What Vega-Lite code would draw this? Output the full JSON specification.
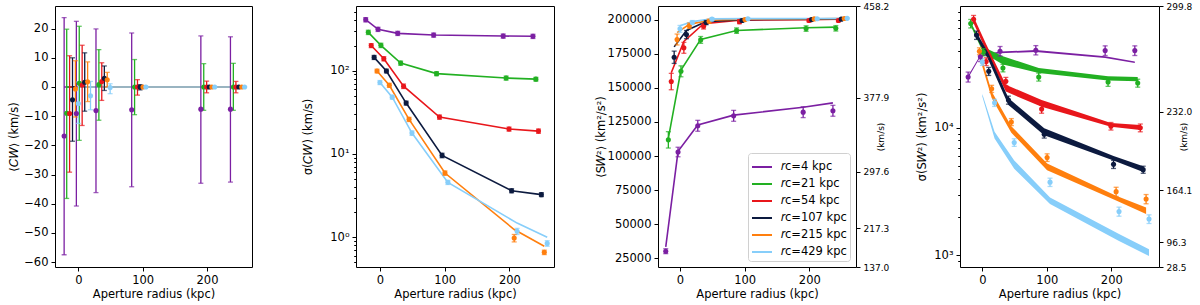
{
"$schema": "https://vega.github.io/schema/vega-lite/v6.json",
"padding": {"left": 8, "top": 1, "right": 2, "bottom": 2},
"config": {
  "font": "DejaVu Sans",
  "view": {"stroke": "#000000", "strokeWidth": 1},
  "axis": {"labelFontSize": 11.5, "titleFontSize": 11.5, "labelColor": "#000", "titleColor": "#000", "titleFontWeight": "normal", "tickColor": "#000", "tickSize": 4, "tickWidth": 1, "grid": false, "domain": false, "labelPadding": 3, "labelFlush": false, "labelOverlap": false}
},
"datasets": {"d": [
{"s":"𝑟c=4 kpc","x":-22,"c":-16.8,"clo":-57.5,"chi":23.8,"cm":0,"d":409,"dlo":385,"dhi":433,"dm":409,"S":30350,"Slo":28550,"Shi":32150,"Sm":33500,"v":25000,"vlo":22800,"vhi":27300,"vmlo":24500,"vmhi":25500},
{"s":"𝑟c=4 kpc","x":-3,"c":-9.1,"clo":-40.8,"chi":22.5,"cm":0,"d":313,"dlo":295,"dhi":331,"dm":313,"S":103000,"Slo":99500,"Shi":106500,"Sm":103500,"v":36000,"vlo":33000,"vhi":39000,"vmlo":36000,"vmhi":37200},
{"s":"𝑟c=4 kpc","x":27.5,"c":-8.1,"clo":-36.2,"chi":19.9,"cm":0,"d":280,"dlo":264,"dhi":296,"dm":280,"S":122200,"Slo":118200,"Shi":126200,"Sm":122800,"v":39800,"vlo":36500,"vhi":43300,"vmlo":38300,"vmhi":39500},
{"s":"𝑟c=4 kpc","x":83,"c":-7.8,"clo":-34.2,"chi":18.5,"cm":0,"d":267,"dlo":252,"dhi":282,"dm":267,"S":129500,"Slo":125500,"Shi":133500,"Sm":130000,"v":40500,"vlo":37200,"vhi":44000,"vmlo":39300,"vmhi":40600},
{"s":"𝑟c=4 kpc","x":190.5,"c":-7.6,"clo":-33.0,"chi":17.5,"cm":0,"d":260,"dlo":245,"dhi":275,"dm":260,"S":132200,"Slo":128200,"Shi":136200,"Sm":135800,"v":40300,"vlo":36800,"vhi":43800,"vmlo":35200,"vmhi":36300},
{"s":"𝑟c=4 kpc","x":236.5,"c":-7.6,"clo":-32.6,"chi":17.2,"cm":0,"d":258,"dlo":243,"dhi":273,"dm":258,"S":133200,"Slo":129200,"Shi":137200,"Sm":139000,"v":40300,"vlo":36800,"vhi":43800,"vmlo":32100,"vmhi":33100},
{"s":"𝑟c=21 kpc","x":-18,"c":-9.0,"clo":-38.2,"chi":19.8,"cm":0,"d":288,"dlo":271,"dhi":305,"dm":288,"S":111900,"Slo":105900,"Shi":117900,"Sm":113000,"v":65500,"vlo":60500,"vhi":70500,"vmlo":63000,"vmhi":67500},
{"s":"𝑟c=21 kpc","x":1.5,"c":1.3,"clo":-18.3,"chi":20.8,"cm":0,"d":201,"dlo":189,"dhi":213,"dm":201,"S":162100,"Slo":158100,"Shi":166100,"Sm":163000,"v":39100,"vlo":36600,"vhi":41600,"vmlo":38500,"vmhi":43000},
{"s":"𝑟c=21 kpc","x":32,"c":0.8,"clo":-11.4,"chi":12.8,"cm":0,"d":123,"dlo":116,"dhi":130,"dm":123,"S":185100,"Slo":182600,"Shi":187600,"Sm":185500,"v":29400,"vlo":27400,"vhi":31400,"vmlo":31300,"vmhi":36300},
{"s":"𝑟c=21 kpc","x":87.5,"c":0,"clo":-9.5,"chi":9.4,"cm":0,"d":92,"dlo":87,"dhi":97,"dm":92,"S":191900,"Slo":189900,"Shi":193900,"Sm":192000,"v":25000,"vlo":23200,"vhi":26800,"vmlo":26900,"vmhi":29400},
{"s":"𝑟c=21 kpc","x":195,"c":0,"clo":-8.0,"chi":8.0,"cm":0,"d":81.5,"dlo":77,"dhi":86,"dm":81.5,"S":193400,"Slo":191400,"Shi":195400,"Sm":194000,"v":22800,"vlo":21100,"vhi":24500,"vmlo":23500,"vmhi":25300},
{"s":"𝑟c=21 kpc","x":241,"c":0,"clo":-8.0,"chi":8.1,"cm":0,"d":79,"dlo":75,"dhi":83,"dm":79,"S":193600,"Slo":191600,"Shi":195600,"Sm":194500,"v":22400,"vlo":20800,"vhi":24000,"vmlo":23100,"vmhi":25000},
{"s":"𝑟c=54 kpc","x":-13.5,"c":-9.1,"clo":-29.2,"chi":10.7,"cm":0,"d":200,"dlo":189,"dhi":211,"dm":200,"S":154600,"Slo":148600,"Shi":160600,"Sm":161000,"v":70800,"vlo":65800,"vhi":75800,"vmlo":66000,"vmhi":74000},
{"s":"𝑟c=54 kpc","x":6,"c":0.7,"clo":-13.2,"chi":14.3,"cm":0,"d":139,"dlo":131,"dhi":147,"dm":139,"S":179300,"Slo":175300,"Shi":183300,"Sm":184000,"v":33000,"vlo":30700,"vhi":35300,"vmlo":40000,"vmhi":45000},
{"s":"𝑟c=54 kpc","x":36.5,"c":1.9,"clo":-4.6,"chi":8.3,"cm":0,"d":65,"dlo":61,"dhi":69,"dm":65,"S":195100,"Slo":193100,"Shi":197100,"Sm":197000,"v":23100,"vlo":21400,"vhi":24800,"vmlo":19200,"vmhi":21700},
{"s":"𝑟c=54 kpc","x":92,"c":0,"clo":-2.8,"chi":2.5,"cm":0,"d":27.7,"dlo":26.1,"dhi":29.3,"dm":27.7,"S":198500,"Slo":197000,"Shi":200000,"Sm":199500,"v":14000,"vlo":13000,"vhi":15000,"vmlo":14600,"vmhi":16500},
{"s":"𝑟c=54 kpc","x":199.5,"c":0,"clo":-2.0,"chi":2.0,"cm":0,"d":19.9,"dlo":18.8,"dhi":21,"dm":19.9,"S":199300,"Slo":198300,"Shi":200300,"Sm":200000,"v":10300,"vlo":9600,"vhi":11000,"vmlo":10200,"vmhi":10900},
{"s":"𝑟c=54 kpc","x":245,"c":0,"clo":-2.0,"chi":1.9,"cm":0,"d":18.8,"dlo":17.7,"dhi":19.9,"dm":18.8,"S":199300,"Slo":198300,"Shi":200300,"Sm":200200,"v":10000,"vlo":9300,"vhi":10700,"vmlo":9600,"vmhi":10500},
{"s":"𝑟c=107 kpc","x":-9,"c":-4.4,"clo":-18.6,"chi":10.0,"cm":0,"d":144,"dlo":136,"dhi":152,"dm":144,"S":172400,"Slo":167900,"Shi":176900,"Sm":180000,"v":53200,"vlo":49200,"vhi":57200,"vmlo":51000,"vmhi":56000},
{"s":"𝑟c=107 kpc","x":10,"c":1.6,"clo":-8.3,"chi":11.7,"cm":0,"d":99,"dlo":94,"dhi":104,"dm":99,"S":189000,"Slo":186000,"Shi":192000,"Sm":192000,"v":27700,"vlo":25700,"vhi":29700,"vmlo":33500,"vmhi":38000},
{"s":"𝑟c=107 kpc","x":40.5,"c":3.0,"clo":-1.2,"chi":7.2,"cm":0,"d":40.8,"dlo":38.6,"dhi":43,"dm":40.8,"S":197800,"Slo":196300,"Shi":199300,"Sm":198500,"v":16500,"vlo":15300,"vhi":17700,"vmlo":15100,"vmhi":17100},
{"s":"𝑟c=107 kpc","x":96,"c":0,"clo":-1.0,"chi":0.8,"cm":0,"d":9.6,"dlo":9.0,"dhi":10.2,"dm":9.6,"S":199300,"Slo":198300,"Shi":200300,"Sm":200000,"v":8900,"vlo":8300,"vhi":9500,"vmlo":8750,"vmhi":9900},
{"s":"𝑟c=107 kpc","x":203.5,"c":0,"clo":-0.4,"chi":0.4,"cm":0,"d":3.62,"dlo":3.42,"dhi":3.83,"dm":3.62,"S":200000,"Slo":199200,"Shi":200800,"Sm":200300,"v":5170,"vlo":4800,"vhi":5550,"vmlo":5550,"vmhi":6000},
{"s":"𝑟c=107 kpc","x":249.5,"c":0,"clo":-0.3,"chi":0.3,"cm":0,"d":3.25,"dlo":3.08,"dhi":3.43,"dm":3.25,"S":200300,"Slo":199700,"Shi":200900,"Sm":200500,"v":4700,"vlo":4400,"vhi":5000,"vmlo":4500,"vmhi":5000},
{"s":"𝑟c=215 kpc","x":-4.5,"c":-0.7,"clo":-10.3,"chi":9.0,"cm":0,"d":99,"dlo":94,"dhi":104,"dm":99,"S":185400,"Slo":181400,"Shi":189400,"Sm":190500,"v":39800,"vlo":37300,"vhi":42300,"vmlo":36000,"vmhi":40500},
{"s":"𝑟c=215 kpc","x":14.5,"c":1.8,"clo":-5.0,"chi":8.6,"cm":0,"d":66.7,"dlo":63,"dhi":70.5,"dm":66.7,"S":195500,"Slo":193500,"Shi":197500,"Sm":196500,"v":20200,"vlo":18900,"vhi":21500,"vmlo":17100,"vmhi":19200},
{"s":"𝑟c=215 kpc","x":45,"c":2.5,"clo":0.0,"chi":5.0,"cm":0,"d":26,"dlo":24.5,"dhi":27.5,"dm":26,"S":198800,"Slo":197300,"Shi":200300,"Sm":199500,"v":11100,"vlo":10400,"vhi":11800,"vmlo":9150,"vmhi":10300},
{"s":"𝑟c=215 kpc","x":100.5,"c":0,"clo":-0.3,"chi":0.3,"cm":0,"d":5.9,"dlo":5.55,"dhi":6.25,"dm":5.9,"S":200000,"Slo":199200,"Shi":200800,"Sm":200300,"v":5840,"vlo":5450,"vhi":6250,"vmlo":4640,"vmhi":5240},
{"s":"𝑟c=215 kpc","x":207.5,"c":0,"clo":-0.1,"chi":0.1,"cm":0,"d":0.98,"dlo":0.88,"dhi":1.08,"dm":1.24,"S":200500,"Slo":199900,"Shi":201100,"Sm":200600,"v":3160,"vlo":2900,"vhi":3420,"vmlo":2690,"vmhi":2940},
{"s":"𝑟c=215 kpc","x":254,"c":0,"clo":-0.1,"chi":0.1,"cm":0,"d":0.66,"dlo":0.62,"dhi":0.70,"dm":0.78,"S":200800,"Slo":200300,"Shi":201300,"Sm":200800,"v":2770,"vlo":2540,"vhi":3000,"vmlo":2110,"vmhi":2380},
{"s":"𝑟c=429 kpc","x":0,"c":-5.7,"clo":-12.5,"chi":1.7,"cm":0,"d":72,"dlo":68,"dhi":76,"dm":72,"S":193200,"Slo":190700,"Shi":195700,"Sm":195500,"v":32800,"vlo":30800,"vhi":34800,"vmlo":17600,"vmhi":18400},
{"s":"𝑟c=429 kpc","x":19,"c":-3.0,"clo":-7.8,"chi":1.9,"cm":0,"d":48,"dlo":45.5,"dhi":50.5,"dm":48,"S":197800,"Slo":196300,"Shi":199300,"Sm":198500,"v":15700,"vlo":14700,"vhi":16700,"vmlo":8250,"vmhi":9300},
{"s":"𝑟c=429 kpc","x":49.5,"c":-0.2,"clo":-2.3,"chi":1.1,"cm":0,"d":17.8,"dlo":16.7,"dhi":18.9,"dm":17.8,"S":200300,"Slo":199300,"Shi":201300,"Sm":200500,"v":7670,"vlo":7150,"vhi":8200,"vmlo":4780,"vmhi":5550},
{"s":"𝑟c=429 kpc","x":105,"c":0,"clo":-0.2,"chi":0.2,"cm":0,"d":4.56,"dlo":4.3,"dhi":4.82,"dm":4.56,"S":200600,"Slo":200100,"Shi":201100,"Sm":200700,"v":3750,"vlo":3470,"vhi":4030,"vmlo":2530,"vmhi":2850},
{"s":"𝑟c=429 kpc","x":212,"c":0,"clo":-0.1,"chi":0.1,"cm":0,"d":1.18,"dlo":1.08,"dhi":1.28,"dm":1.48,"S":200600,"Slo":200100,"Shi":201100,"Sm":200800,"v":2210,"vlo":2030,"vhi":2390,"vmlo":1300,"vmhi":1470},
{"s":"𝑟c=429 kpc","x":258.5,"c":0,"clo":-0.1,"chi":0.1,"cm":0,"d":0.845,"dlo":0.78,"dhi":0.91,"dm":1.0,"S":200900,"Slo":200400,"Shi":201400,"Sm":200900,"v":1930,"vlo":1780,"vhi":2080,"vmlo":990,"vmhi":1120}
]},
"data": {"name": "d"},
"spacing": 104,
"bounds": "flush",
"resolve": {"scale": {"x": "independent", "y": "independent", "color": "independent"}, "axis": {"x": "independent", "y": "independent"}, "legend": {"color": "independent"}},
"hconcat": [
{
 "width": 197, "height": 261,
 "encoding": {
   "x": {"field": "x", "type": "quantitative", "scale": {"domain": [-36.2, 270], "nice": false, "zero": false}, "axis": {"values": [0, 100, 200], "title": "Aperture radius (kpc)", "titlePadding": 3, "labelOverlap": false}},
   "color": {"field": "s", "type": "nominal", "scale": {"domain": ["𝑟c=4 kpc","𝑟c=21 kpc","𝑟c=54 kpc","𝑟c=107 kpc","𝑟c=215 kpc","𝑟c=429 kpc"], "range": ["#7b1fa2","#22b022","#e8161b","#0c1a3f","#ff7f0e","#87cefa"]}, "legend": null}
 },
 "layer": [
  {"mark": {"type": "line", "strokeWidth": 1.6}, "encoding": {"y": {"field": "cm", "type": "quantitative", "scale": {"domain": [-61.7, 27.75], "nice": false, "zero": false}, "axis": {"values": [-60,-50,-40,-30,-20,-10,0,10,20], "title": "⟨𝐶𝑊⟩ (km/s)", "titlePadding": 4, "labelOverlap": false}}}},
  {"mark": {"type": "rule", "strokeWidth": 1.3}, "encoding": {"y": {"field": "clo", "type": "quantitative", "scale": {"domain": [-61.7, 27.75], "nice": false, "zero": false}, "axis": {"values": [-60,-50,-40,-30,-20,-10,0,10,20], "title": "⟨𝐶𝑊⟩ (km/s)", "titlePadding": 4, "labelOverlap": false}}, "y2": {"field": "chi"}}},
  {"mark": {"type": "tick", "orient": "horizontal", "size": 5, "thickness": 1.3}, "encoding": {"y": {"field": "clo", "type": "quantitative", "scale": {"domain": [-61.7, 27.75], "nice": false, "zero": false}, "axis": {"values": [-60,-50,-40,-30,-20,-10,0,10,20], "title": "⟨𝐶𝑊⟩ (km/s)", "titlePadding": 4, "labelOverlap": false}}}},
  {"mark": {"type": "tick", "orient": "horizontal", "size": 5, "thickness": 1.3}, "encoding": {"y": {"field": "chi", "type": "quantitative", "scale": {"domain": [-61.7, 27.75], "nice": false, "zero": false}, "axis": {"values": [-60,-50,-40,-30,-20,-10,0,10,20], "title": "⟨𝐶𝑊⟩ (km/s)", "titlePadding": 4, "labelOverlap": false}}}},
  {"mark": {"type": "circle", "size": 26, "opacity": 1}, "encoding": {"y": {"field": "c", "type": "quantitative", "scale": {"domain": [-61.7, 27.75], "nice": false, "zero": false}, "axis": {"values": [-60,-50,-40,-30,-20,-10,0,10,20], "title": "⟨𝐶𝑊⟩ (km/s)", "titlePadding": 4, "labelOverlap": false}}}}
 ]
},
{
 "width": 198, "height": 261,
 "encoding": {
   "x": {"field": "x", "type": "quantitative", "scale": {"domain": [-37, 269], "nice": false, "zero": false}, "axis": {"values": [0, 100, 200], "title": "Aperture radius (kpc)", "titlePadding": 3, "labelOverlap": false}},
   "color": {"field": "s", "type": "nominal", "scale": {"domain": ["𝑟c=4 kpc","𝑟c=21 kpc","𝑟c=54 kpc","𝑟c=107 kpc","𝑟c=215 kpc","𝑟c=429 kpc"], "range": ["#7b1fa2","#22b022","#e8161b","#0c1a3f","#ff7f0e","#87cefa"]}, "legend": null}
 },
 "layer": [
  {"mark": {"type": "line", "strokeWidth": 1.6}, "encoding": {"y": {"field": "dm", "type": "quantitative", "scale": {"type": "log", "domain": [0.44, 596], "nice": false}, "axis": {"values": [0.5,0.6,0.7,0.8,0.9,1,2,3,4,5,6,7,8,9,10,20,30,40,50,60,70,80,90,100,200,300,400,500], "labelExpr": "datum.value == 1 ? '10⁰' : datum.value == 10 ? '10¹' : datum.value == 100 ? '10²' : ''", "tickSize": {"condition": {"test": "datum.value == 1 || datum.value == 10 || datum.value == 100", "value": 4}, "value": 2.3}, "title": "σ(𝐶𝑊) (km/s)", "titlePadding": 16, "labelOverlap": false}}}},
  {"mark": {"type": "rule", "strokeWidth": 1.3}, "encoding": {"y": {"field": "dlo", "type": "quantitative", "scale": {"type": "log", "domain": [0.44, 596], "nice": false}, "axis": {"values": [0.5,0.6,0.7,0.8,0.9,1,2,3,4,5,6,7,8,9,10,20,30,40,50,60,70,80,90,100,200,300,400,500], "labelExpr": "datum.value == 1 ? '10⁰' : datum.value == 10 ? '10¹' : datum.value == 100 ? '10²' : ''", "tickSize": {"condition": {"test": "datum.value == 1 || datum.value == 10 || datum.value == 100", "value": 4}, "value": 2.3}, "title": "σ(𝐶𝑊) (km/s)", "titlePadding": 16, "labelOverlap": false}}, "y2": {"field": "dhi"}}},
  {"mark": {"type": "tick", "orient": "horizontal", "size": 5, "thickness": 1.3}, "encoding": {"y": {"field": "dlo", "type": "quantitative", "scale": {"type": "log", "domain": [0.44, 596], "nice": false}, "axis": {"values": [0.5,0.6,0.7,0.8,0.9,1,2,3,4,5,6,7,8,9,10,20,30,40,50,60,70,80,90,100,200,300,400,500], "labelExpr": "datum.value == 1 ? '10⁰' : datum.value == 10 ? '10¹' : datum.value == 100 ? '10²' : ''", "tickSize": {"condition": {"test": "datum.value == 1 || datum.value == 10 || datum.value == 100", "value": 4}, "value": 2.3}, "title": "σ(𝐶𝑊) (km/s)", "titlePadding": 16, "labelOverlap": false}}}},
  {"mark": {"type": "tick", "orient": "horizontal", "size": 5, "thickness": 1.3}, "encoding": {"y": {"field": "dhi", "type": "quantitative", "scale": {"type": "log", "domain": [0.44, 596], "nice": false}, "axis": {"values": [0.5,0.6,0.7,0.8,0.9,1,2,3,4,5,6,7,8,9,10,20,30,40,50,60,70,80,90,100,200,300,400,500], "labelExpr": "datum.value == 1 ? '10⁰' : datum.value == 10 ? '10¹' : datum.value == 100 ? '10²' : ''", "tickSize": {"condition": {"test": "datum.value == 1 || datum.value == 10 || datum.value == 100", "value": 4}, "value": 2.3}, "title": "σ(𝐶𝑊) (km/s)", "titlePadding": 16, "labelOverlap": false}}}},
  {"mark": {"type": "circle", "size": 26, "opacity": 1}, "encoding": {"y": {"field": "d", "type": "quantitative", "scale": {"type": "log", "domain": [0.44, 596], "nice": false}, "axis": {"values": [0.5,0.6,0.7,0.8,0.9,1,2,3,4,5,6,7,8,9,10,20,30,40,50,60,70,80,90,100,200,300,400,500], "labelExpr": "datum.value == 1 ? '10⁰' : datum.value == 10 ? '10¹' : datum.value == 100 ? '10²' : ''", "tickSize": {"condition": {"test": "datum.value == 1 || datum.value == 10 || datum.value == 100", "value": 4}, "value": 2.3}, "title": "σ(𝐶𝑊) (km/s)", "titlePadding": 16, "labelOverlap": false}}}}
 ]
},
{
 "width": 198, "height": 261,
 "encoding": {
   "x": {"field": "x", "type": "quantitative", "scale": {"domain": [-34, 272.2], "nice": false, "zero": false}, "axis": {"values": [0, 100, 200], "title": "Aperture radius (kpc)", "titlePadding": 3, "labelOverlap": false}},
   "color": {"field": "s", "type": "nominal", "scale": {"domain": ["𝑟c=4 kpc","𝑟c=21 kpc","𝑟c=54 kpc","𝑟c=107 kpc","𝑟c=215 kpc","𝑟c=429 kpc"], "range": ["#7b1fa2","#22b022","#e8161b","#0c1a3f","#ff7f0e","#87cefa"]}, "legend": null}
 },
 "resolve": {"scale": {"y": "independent"}, "axis": {"y": "independent"}},
 "layer": [
  {"layer": [
    {"mark": {"type": "line", "strokeWidth": 1.6}, "encoding": {"y": {"field": "Sm", "type": "quantitative", "scale": {"domain": [18769, 209947], "nice": false, "zero": false}, "axis": {"values": [25000,50000,75000,100000,125000,150000,175000,200000], "format": "d", "title": "⟨S𝑊²⟩ (km²/s²)", "titlePadding": 1, "labelOverlap": false}},
      "color": {"field": "s", "type": "nominal", "scale": {"domain": ["𝑟c=4 kpc","𝑟c=21 kpc","𝑟c=54 kpc","𝑟c=107 kpc","𝑟c=215 kpc","𝑟c=429 kpc"], "range": ["#7b1fa2","#22b022","#e8161b","#0c1a3f","#ff7f0e","#87cefa"]}, "legend": {"title": null, "orient": "bottom-right", "offset": 6, "symbolType": "stroke", "symbolSize": 400, "symbolStrokeWidth": 2, "labelFontSize": 11.5, "labelFont": "DejaVu Sans", "labelColor": "#000", "rowPadding": -2.2, "padding": 3, "strokeColor": "#d0d0d0", "fillColor": "#ffffff", "cornerRadius": 3, "labelOffset": 8}}}},
    {"mark": {"type": "rule", "strokeWidth": 1.3}, "encoding": {"y": {"field": "Slo", "type": "quantitative", "scale": {"domain": [18769, 209947], "nice": false, "zero": false}, "axis": {"values": [25000,50000,75000,100000,125000,150000,175000,200000], "format": "d", "title": "⟨S𝑊²⟩ (km²/s²)", "titlePadding": 1, "labelOverlap": false}}, "y2": {"field": "Shi"}}},
    {"mark": {"type": "tick", "orient": "horizontal", "size": 5, "thickness": 1.3}, "encoding": {"y": {"field": "Slo", "type": "quantitative", "scale": {"domain": [18769, 209947], "nice": false, "zero": false}, "axis": {"values": [25000,50000,75000,100000,125000,150000,175000,200000], "format": "d", "title": "⟨S𝑊²⟩ (km²/s²)", "titlePadding": 1, "labelOverlap": false}}}},
    {"mark": {"type": "tick", "orient": "horizontal", "size": 5, "thickness": 1.3}, "encoding": {"y": {"field": "Shi", "type": "quantitative", "scale": {"domain": [18769, 209947], "nice": false, "zero": false}, "axis": {"values": [25000,50000,75000,100000,125000,150000,175000,200000], "format": "d", "title": "⟨S𝑊²⟩ (km²/s²)", "titlePadding": 1, "labelOverlap": false}}}},
    {"mark": {"type": "circle", "size": 26, "opacity": 1}, "encoding": {"y": {"field": "S", "type": "quantitative", "scale": {"domain": [18769, 209947], "nice": false, "zero": false}, "axis": {"values": [25000,50000,75000,100000,125000,150000,175000,200000], "format": "d", "title": "⟨S𝑊²⟩ (km²/s²)", "titlePadding": 1, "labelOverlap": false}}}}
  ]},
  {"mark": {"type": "point", "opacity": 0}, "encoding": {"y": {"datum": 300, "type": "quantitative", "scale": {"type": "pow", "exponent": 2, "domain": [137, 458.2], "nice": false, "zero": false}, "axis": {"orient": "right", "values": [137, 217.3, 297.6, 377.9, 458.2], "format": ".1f", "title": "(km/s)", "titleAngle": 270, "labelFontSize": 9, "titleFontSize": 9, "titlePadding": -3, "labelOverlap": false}}}}
 ]
},
{
 "width": 199, "height": 261,
 "encoding": {
   "x": {"field": "x", "type": "quantitative", "scale": {"domain": [-34.6, 274], "nice": false, "zero": false}, "axis": {"values": [0, 100, 200], "title": "Aperture radius (kpc)", "titlePadding": 3, "labelOverlap": false}},
   "color": {"field": "s", "type": "nominal", "scale": {"domain": ["𝑟c=4 kpc","𝑟c=21 kpc","𝑟c=54 kpc","𝑟c=107 kpc","𝑟c=215 kpc","𝑟c=429 kpc"], "range": ["#7b1fa2","#22b022","#e8161b","#0c1a3f","#ff7f0e","#87cefa"]}, "legend": null}
 },
 "resolve": {"scale": {"y": "independent"}, "axis": {"y": "independent"}},
 "layer": [
  {"layer": [
    {"mark": {"type": "area", "opacity": 1}, "encoding": {"y": {"field": "vmlo", "type": "quantitative", "scale": {"type": "log", "domain": [812.25, 89880], "nice": false}, "axis": {"values": [900,1000,2000,3000,4000,5000,6000,7000,8000,9000,10000,20000,30000,40000,50000,60000,70000,80000], "labelExpr": "datum.value == 1000 ? '10³' : datum.value == 10000 ? '10⁴' : ''", "tickSize": {"condition": {"test": "datum.value == 1000 || datum.value == 10000", "value": 4}, "value": 2.3}, "title": "σ(S𝑊²) (km²/s²)", "titlePadding": 6, "labelOverlap": false}}, "y2": {"field": "vmhi"}}},
    {"mark": {"type": "rule", "strokeWidth": 1.3}, "encoding": {"y": {"field": "vlo", "type": "quantitative", "scale": {"type": "log", "domain": [812.25, 89880], "nice": false}, "axis": {"values": [900,1000,2000,3000,4000,5000,6000,7000,8000,9000,10000,20000,30000,40000,50000,60000,70000,80000], "labelExpr": "datum.value == 1000 ? '10³' : datum.value == 10000 ? '10⁴' : ''", "tickSize": {"condition": {"test": "datum.value == 1000 || datum.value == 10000", "value": 4}, "value": 2.3}, "title": "σ(S𝑊²) (km²/s²)", "titlePadding": 6, "labelOverlap": false}}, "y2": {"field": "vhi"}}},
    {"mark": {"type": "tick", "orient": "horizontal", "size": 5, "thickness": 1.3}, "encoding": {"y": {"field": "vlo", "type": "quantitative", "scale": {"type": "log", "domain": [812.25, 89880], "nice": false}, "axis": {"values": [900,1000,2000,3000,4000,5000,6000,7000,8000,9000,10000,20000,30000,40000,50000,60000,70000,80000], "labelExpr": "datum.value == 1000 ? '10³' : datum.value == 10000 ? '10⁴' : ''", "tickSize": {"condition": {"test": "datum.value == 1000 || datum.value == 10000", "value": 4}, "value": 2.3}, "title": "σ(S𝑊²) (km²/s²)", "titlePadding": 6, "labelOverlap": false}}}},
    {"mark": {"type": "tick", "orient": "horizontal", "size": 5, "thickness": 1.3}, "encoding": {"y": {"field": "vhi", "type": "quantitative", "scale": {"type": "log", "domain": [812.25, 89880], "nice": false}, "axis": {"values": [900,1000,2000,3000,4000,5000,6000,7000,8000,9000,10000,20000,30000,40000,50000,60000,70000,80000], "labelExpr": "datum.value == 1000 ? '10³' : datum.value == 10000 ? '10⁴' : ''", "tickSize": {"condition": {"test": "datum.value == 1000 || datum.value == 10000", "value": 4}, "value": 2.3}, "title": "σ(S𝑊²) (km²/s²)", "titlePadding": 6, "labelOverlap": false}}}},
    {"mark": {"type": "circle", "size": 26, "opacity": 1}, "encoding": {"y": {"field": "v", "type": "quantitative", "scale": {"type": "log", "domain": [812.25, 89880], "nice": false}, "axis": {"values": [900,1000,2000,3000,4000,5000,6000,7000,8000,9000,10000,20000,30000,40000,50000,60000,70000,80000], "labelExpr": "datum.value == 1000 ? '10³' : datum.value == 10000 ? '10⁴' : ''", "tickSize": {"condition": {"test": "datum.value == 1000 || datum.value == 10000", "value": 4}, "value": 2.3}, "title": "σ(S𝑊²) (km²/s²)", "titlePadding": 6, "labelOverlap": false}}}}
  ]},
  {"mark": {"type": "point", "opacity": 0}, "encoding": {"y": {"datum": 100, "type": "quantitative", "scale": {"type": "pow", "exponent": 2, "domain": [28.5, 299.8], "nice": false, "zero": false}, "axis": {"orient": "right", "values": [28.5, 96.3, 164.1, 232.0, 299.8], "format": ".1f", "title": "(km/s)", "titleAngle": 270, "labelFontSize": 9, "titleFontSize": 9, "titlePadding": -3, "labelOverlap": false}}}}
 ]
}
]
}
